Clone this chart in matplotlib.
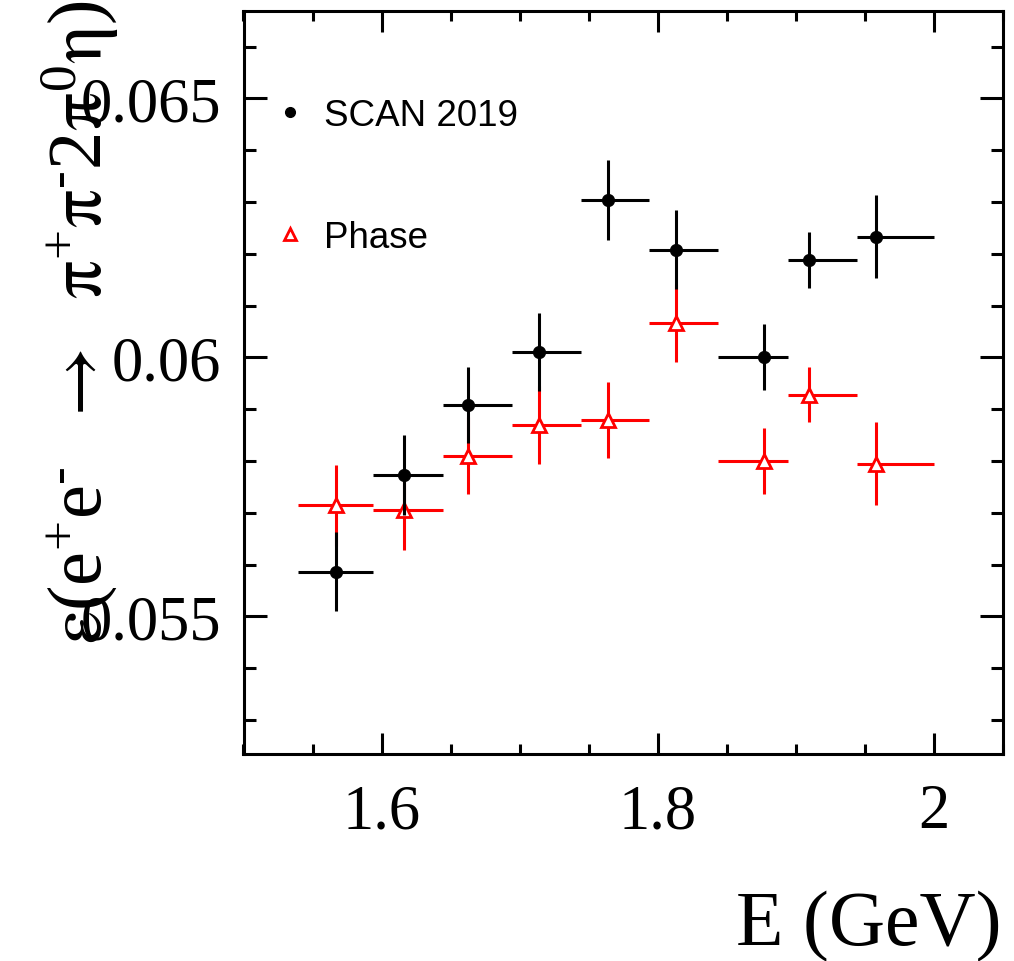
import matplotlib
matplotlib.use('Agg')
import matplotlib.pyplot as plt
from matplotlib.lines import Line2D
from matplotlib.ticker import MultipleLocator, FuncFormatter
import numpy as np

# energy points and bin edges (GeV)
energy = [1.5667, 1.6164, 1.6625, 1.7141, 1.7641, 1.8131, 1.8770, 1.9096, 1.9576]
edge_lo = [1.5397, 1.5940, 1.6442, 1.6944, 1.7441, 1.7937, 1.8437, 1.8944, 1.9439]
edge_hi = [1.5940, 1.6444, 1.6944, 1.7441, 1.7937, 1.8437, 1.8944, 1.9439, 2.0000]

# efficiencies
eff_scan = [0.05586, 0.05773, 0.05908, 0.06010, 0.06303, 0.06208, 0.06000, 0.06187, 0.06233]
err_scan = [0.00076, 0.00077, 0.00074, 0.00075, 0.00077, 0.00076, 0.00064, 0.00054, 0.00080]
eff_phase = [0.05714, 0.05705, 0.05810, 0.05869, 0.05879, 0.06066, 0.05800, 0.05928, 0.05795]
err_phase = [0.00079, 0.00077, 0.00074, 0.00075, 0.00074, 0.00075, 0.00063, 0.00053, 0.00080]

plt.rcParams['mathtext.fontset'] = 'custom'
plt.rcParams['mathtext.rm'] = 'Liberation Serif'
plt.rcParams['mathtext.it'] = 'Liberation Serif:italic'
plt.rcParams['mathtext.sf'] = 'STIXGeneral'  # greek + arrow, closer to ROOT's Symbol font

x = np.array(energy)
xerr = [x - np.array(edge_lo), np.array(edge_hi) - x]

fig = plt.figure(figsize=(10.14, 9.62), dpi=100)
ax = fig.add_axes([243.5 / 1014, 1 - 755 / 962, (1003.3 - 243.5) / 1014, (755 - 12.3) / 962])

ax.errorbar(x, eff_phase, xerr=xerr, yerr=err_phase, fmt='^', color='red', ms=10,
            mfc='white', mec='red', mew=2.0, elinewidth=2.2, capsize=0, zorder=3)
ax.errorbar(x, eff_scan, xerr=xerr, yerr=err_scan, fmt='o', color='black', ms=8.5,
            elinewidth=2.2, capsize=0, zorder=4)

ax.set_xlim(1.5, 2.05)
ax.set_ylim(0.052342, 0.06668)

ax.xaxis.set_major_locator(MultipleLocator(0.2))
ax.xaxis.set_minor_locator(MultipleLocator(0.05))
ax.yaxis.set_major_locator(MultipleLocator(0.005))
ax.yaxis.set_minor_locator(MultipleLocator(0.001))
fmt = FuncFormatter(lambda v, p: '%g' % round(v, 4))
ax.xaxis.set_major_formatter(fmt)
ax.yaxis.set_major_formatter(fmt)

ax.tick_params(which='both', direction='in', top=True, right=True, width=2.2, color='black')
ax.tick_params(axis='x', which='major', length=15, pad=21)
ax.tick_params(axis='x', which='minor', length=7.5)
ax.tick_params(axis='y', which='major', length=16.5, pad=16)
ax.tick_params(axis='y', which='minor', length=8.5)
for lab in ax.get_xticklabels() + ax.get_yticklabels():
    lab.set_fontfamily('Liberation Serif')
    lab.set_fontsize(45)
for sp in ax.spines.values():
    sp.set_linewidth(2.2)

fig.text(1001 / 1014, 17 / 962, 'E (GeV)', ha='right', va='baseline',
         fontsize=56, family='Liberation Serif')
ylab = (r'$\mathrm{\mathsf{\varepsilon}(e^{+}e^{\text{-}}\ \ \mathsf{\rightarrow}\ \ '
        r'\mathsf{\pi}^{+}\mathsf{\pi}^{\text{-}}2\mathsf{\pi}^{0}\mathsf{\eta})}$')
fig.text(80 / 1014, 1.0, ylab, rotation=90, ha='center', va='top', fontsize=55)

handles = [Line2D([], [], marker='o', color='black', ls='none', ms=7),
           Line2D([], [], marker='^', color='red', mfc='white', mew=2.0, ls='none', ms=8)]
ax.legend(handles, ['SCAN 2019', 'Phase'], loc='upper left', frameon=False,
          bbox_to_anchor=(272 / 1014, 1 - 99 / 962), bbox_transform=fig.transFigure,
          borderaxespad=0, borderpad=0, handlelength=1.0, handletextpad=0.4,
          labelspacing=2.36, prop={'family': 'Liberation Sans', 'size': 26.5})

fig.savefig('out.png', dpi=100)
